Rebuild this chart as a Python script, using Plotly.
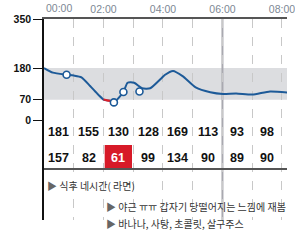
import plotly.graph_objects as go

# ---- data ----
cgm_hours = [0.0, 0.3, 0.76, 1.0, 1.26, 1.55, 1.83, 2.0, 2.12, 2.24, 2.35, 2.67, 2.81, 3.03,
             3.30, 3.57, 3.95, 4.06, 4.34, 4.66, 5.1, 5.59, 6.02, 6.46, 7.0, 7.6, 8.2]
cgm_values = [180, 164, 157, 154, 148, 118, 87, 71, 68, 66, 61, 97, 129, 129,
              110, 110, 145, 156, 170, 152, 113, 96, 90, 92, 88, 99, 95]
low_alert = (2.0, 2.24)
finger_hours = [0.76, 2.35, 2.67, 3.21]
finger_values = [157, 61, 97, 99]

target_low, target_high = 70, 180
y_ticks = [0, 70, 180, 350]
time_ticks = [2, 4, 6, 8]
time_labels = ["02:00", "04:00", "06:00", "08:00"]

hour_max = [181, 155, 130, 128, 169, 113, 93, 98]
hour_min = [157, 82, 61, 99, 134, 90, 89, 90]

notes = ["식후 네시간( 라면)", "야근 ㅠㅠ 갑자기 당떨어지는 느낌에 재봄", "바나나, 사탕, 초콜릿, 살구주스"]
note_hours = [0.0, 2.0, 2.0]

# ---- geometry (pixel mapping helpers) ----
W, H = 295, 240
L, T, B = 44, 19, 20
px_per_hour = 30.72
y_top_px, y0_px = 19, 120
px_per_unit = (y0_px - y_top_px) / 350
plot_h = H - T - B
ymin = 350 - plot_h / px_per_unit
xmax = (W - L) / px_per_hour

def yval(px):
    return (y0_px - px) / px_per_unit

def ypaper(px):
    return (H - B - px) / plot_h

BLUE = "#1d5a98"
RED = "#e0202a"
NUM_FONT = "Arial, Liberation Sans, sans-serif"
KR_FONT = "Noto Sans CJK KR, sans-serif"

fig = go.Figure()

# CGM line
fig.add_trace(go.Scatter(x=cgm_hours, y=cgm_values, mode="lines",
                         line=dict(color=BLUE, width=2, shape="spline", smoothing=0.6),
                         hoverinfo="skip", cliponaxis=True))
lx = [h for h in cgm_hours if low_alert[0] <= h <= low_alert[1]]
ly = [v for h, v in zip(cgm_hours, cgm_values) if low_alert[0] <= h <= low_alert[1]]
fig.add_trace(go.Scatter(x=lx, y=ly, mode="lines",
                         line=dict(color=RED, width=2.2, shape="spline", smoothing=0.6),
                         hoverinfo="skip"))
fig.add_trace(go.Scatter(x=finger_hours, y=finger_values, mode="markers",
                         marker=dict(size=7, color="white", line=dict(color=BLUE, width=1.6)),
                         hoverinfo="skip"))

shapes = []
# target band
shapes.append(dict(type="rect", xref="paper", yref="y", x0=0, x1=1, y0=target_low, y1=target_high,
                   fillcolor="#dcdde0", line=dict(width=0), layer="below"))
# 06:00 solid divider
shapes.append(dict(type="line", xref="x", yref="paper", x0=6, x1=6, y0=0, y1=1,
                   line=dict(color="#a9a9b0", width=2), layer="between"))
# table bottom line
shapes.append(dict(type="line", xref="paper", yref="y", x0=0, x1=1, y0=yval(169), y1=yval(169),
                   line=dict(color="#555555", width=2), layer="above"))

annotations = []
row1_y, row2_y = yval(132), yval(157.5)
for i, (mx, mn) in enumerate(zip(hour_max, hour_min)):
    annotations.append(dict(x=i + 0.5, y=row1_y, xref="x", yref="y", text=str(mx), showarrow=False,
                            font=dict(family=NUM_FONT, size=12.5, color="#111111", weight=700)))
    low = mn < target_low
    if low:
        shapes.append(dict(type="rect", xref="x", yref="y", x0=i + 0.04, x1=i + 0.96,
                           y0=yval(168), y1=yval(145), fillcolor="#d71a28",
                           line=dict(width=0), layer="above"))
    annotations.append(dict(x=i + 0.5, y=row2_y, xref="x", yref="y", text=str(mn), showarrow=False,
                            font=dict(family=NUM_FONT, size=12.5,
                                      color="white" if low else "#111111", weight=700)))

# 00:00 label (left aligned at axis start)
annotations.append(dict(x=0, y=1, xref="x", yref="paper", yshift=11, text="00:00", showarrow=False,
                        xanchor="left", yanchor="middle",
                        font=dict(family=NUM_FONT, size=10.5, color="#7d8894")))

note_px = [185, 206, 223]
for txt, h, py in zip(notes, note_hours, note_px):
    annotations.append(dict(x=h, y=ypaper(py), xref="x", yref="paper", xshift=1,
                            text="<span style='color:#666666'>▶</span> " + txt,
                            showarrow=False, xanchor="left", yanchor="middle",
                            font=dict(family=KR_FONT, size=10, color="#333333")))

fig.update_layout(
    width=W, height=H, margin=dict(l=L, r=0, t=T, b=B),
    paper_bgcolor="white", plot_bgcolor="white", showlegend=False,
    shapes=shapes, annotations=annotations,
    xaxis=dict(range=[0, xmax], side="top", tickvals=time_ticks, ticktext=time_labels,
               showline=True, linecolor="#555555", linewidth=2, ticks="", mirror=False,
               showgrid=True, gridcolor="#c8c8c8", griddash="dash", gridwidth=1,
               zeroline=False, ticklabeloverflow="allow",
               tickfont=dict(family=NUM_FONT, size=10.5, color="#7d8894")),
    yaxis=dict(range=[ymin, 350], tickvals=y_ticks, ticktext=[str(v) for v in y_ticks],
               showline=True, linecolor="#111111", linewidth=1.5, ticks="outside", ticklen=9,
               tickcolor="#111111", tickwidth=1.2, showgrid=False, zeroline=False,
               tickfont=dict(family=NUM_FONT, size=10.5, color="#111111", weight=700)),
)
fig.update_xaxes(minor=dict(dtick=1, tick0=0, showgrid=True, gridcolor="#c8c8c8", griddash="dash",
                            gridwidth=1, ticks=""))

fig.write_html("out.html")
